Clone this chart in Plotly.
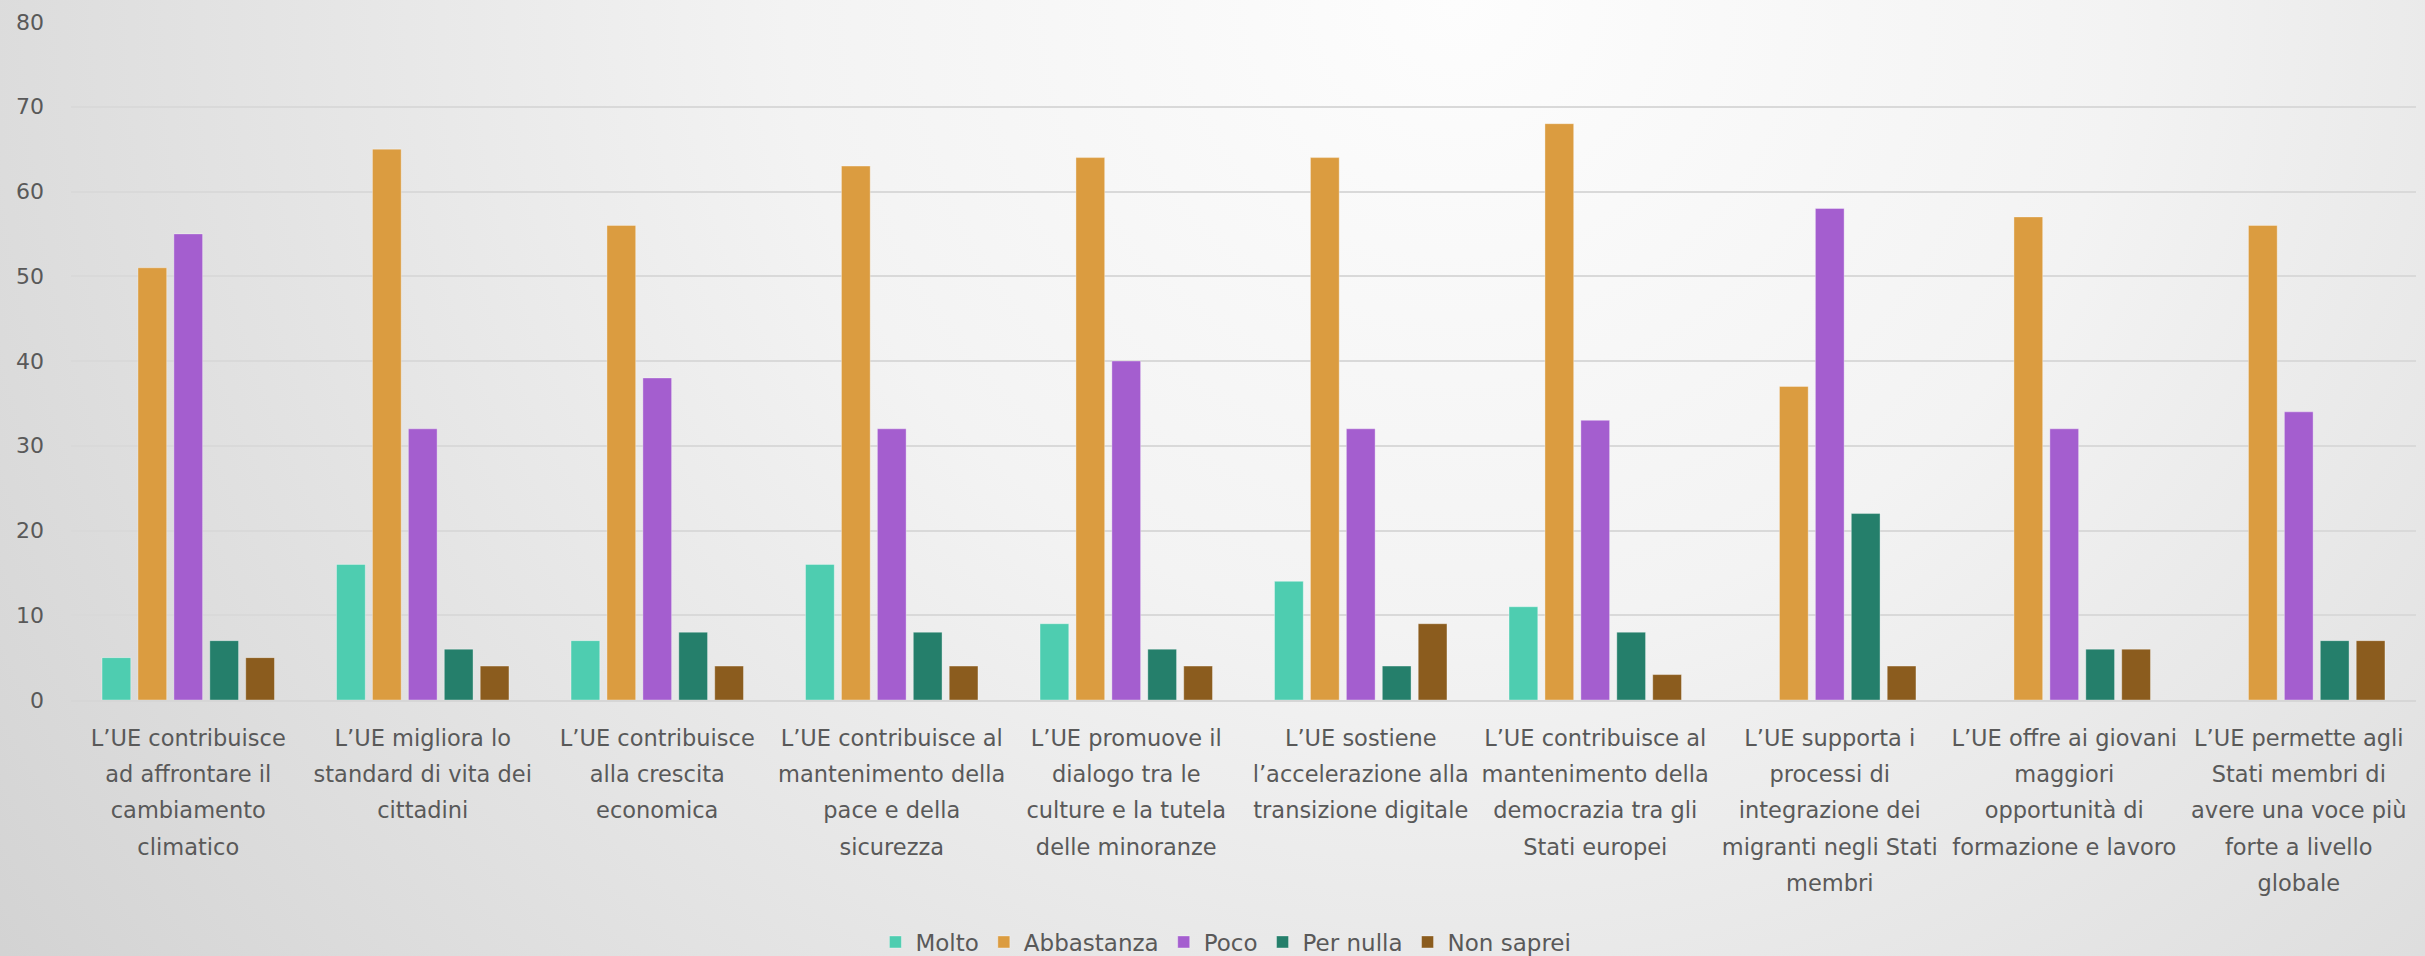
import base64
import plotly.graph_objects as go

categories = [
    "L’UE contribuisce<br>ad affrontare il<br>cambiamento<br>climatico",
    "L’UE migliora lo<br>standard di vita dei<br>cittadini",
    "L’UE contribuisce<br>alla crescita<br>economica",
    "L’UE contribuisce al<br>mantenimento della<br>pace e della<br>sicurezza",
    "L’UE promuove il<br>dialogo tra le<br>culture e la tutela<br>delle minoranze",
    "L’UE sostiene<br>l’accelerazione alla<br>transizione digitale",
    "L’UE contribuisce al<br>mantenimento della<br>democrazia tra gli<br>Stati europei",
    "L’UE supporta i<br>processi di<br>integrazione dei<br>migranti negli Stati<br>membri",
    "L’UE offre ai giovani<br>maggiori<br>opportunità di<br>formazione e lavoro",
    "L’UE permette agli<br>Stati membri di<br>avere una voce più<br>forte a livello<br>globale",
]

series_names = ["Molto", "Abbastanza", "Poco", "Per nulla", "Non saprei"]
molto = [5, 16, 7, 16, 9, 14, 11, None, None, None]
abbastanza = [51, 65, 56, 63, 64, 64, 68, 37, 57, 56]
poco = [55, 32, 38, 32, 40, 32, 33, 58, 32, 34]
per_nulla = [7, 6, 8, 8, 6, 4, 8, 22, 6, 7]
non_saprei = [5, 4, 4, 4, 4, 9, 3, 4, 6, 7]
y_ticks = [0, 10, 20, 30, 40, 50, 60, 70, 80]

colors = ["#4ecdb0", "#db9c40", "#a45ecf", "#257f6b", "#8b5c1e"]
values = [molto, abbastanza, poco, per_nulla, non_saprei]

FONT = "DejaVu Sans"
TXT = "#595959"

x_ids = list(range(len(categories)))

def small(label):
    return "<br>".join('<span style="font-size:22.5px">' + p + "</span>" for p in label.split("<br>"))

fig = go.Figure()
for name, vals, col in zip(series_names, values, colors):
    fig.add_trace(go.Bar(
        x=x_ids, y=vals, name=name,
        marker=dict(color=col, line=dict(color="rgba(255,255,255,0.35)", width=1)),
    ))

W, H = 2425, 956
ML, MR, MT, MB = 71, 9, 22, 256
pw, ph = W - ML - MR, H - MT - MB

svg = f'''<svg xmlns="http://www.w3.org/2000/svg" width="{W}" height="{H}" viewBox="0 0 {W} {H}" preserveAspectRatio="none">
<defs><radialGradient id="g" cx="0.6" cy="0.0" r="1.1" gradientUnits="objectBoundingBox" gradientTransform="translate(0.6,0) scale(1,2.4) translate(-0.6,0)">
<stop offset="0" stop-color="#fdfdfd"/><stop offset="0.25" stop-color="#f3f3f3"/><stop offset="0.6" stop-color="#d8d8d8"/><stop offset="1" stop-color="#b8b8b8"/>
</radialGradient></defs><rect width="{W}" height="{H}" fill="url(#g)"/></svg>'''
src = "data:image/svg+xml;base64," + base64.b64encode(svg.encode()).decode()

fig.update_layout(
    width=W, height=H,
    margin=dict(l=ML, r=MR, t=MT, b=MB, pad=0, autoexpand=False),
    paper_bgcolor="#c8c8c8", plot_bgcolor="rgba(0,0,0,0)",
    barmode="group", bargap=0.234, bargroupgap=0.2,
    font=dict(family=FONT, color=TXT, size=22),
    images=[dict(source=src, xref="paper", yref="paper",
                 x=-ML / pw, y=1 + MT / ph, sizex=W / pw, sizey=H / ph,
                 sizing="stretch", layer="below", xanchor="left", yanchor="top")],
    legend=dict(orientation="h", x=0.4925, xanchor="center",
                yref="container", y=1 - 942 / H, yanchor="middle",
                font=dict(family=FONT, size=23, color=TXT), bgcolor="rgba(0,0,0,0)",
                itemclick=False, traceorder="normal"),
    showlegend=True,
)
fig.update_xaxes(
    tickmode="array", tickvals=x_ids, ticktext=[small(c) for c in categories],
    tickfont=dict(family=FONT, size=28, color=TXT), tickangle=0,
    showgrid=False, showline=True, linecolor="#d6d6d6", linewidth=2,
    ticks="", range=[-0.5, len(categories) - 0.5], ticklabelstandoff=10,
)
fig.update_yaxes(
    range=[0, 80], tickmode="array", tickvals=y_ticks,
    tickfont=dict(family=FONT, size=22, color=TXT),
    showgrid=True, gridcolor="#d9d9d9", gridwidth=2, zeroline=False,
    showline=False, ticks="", ticklabelstandoff=26,
)

fig.write_html("out.html", config={"displayModeBar": False},
               post_script="document.body.style.margin='0';document.body.style.overflow='hidden';")
